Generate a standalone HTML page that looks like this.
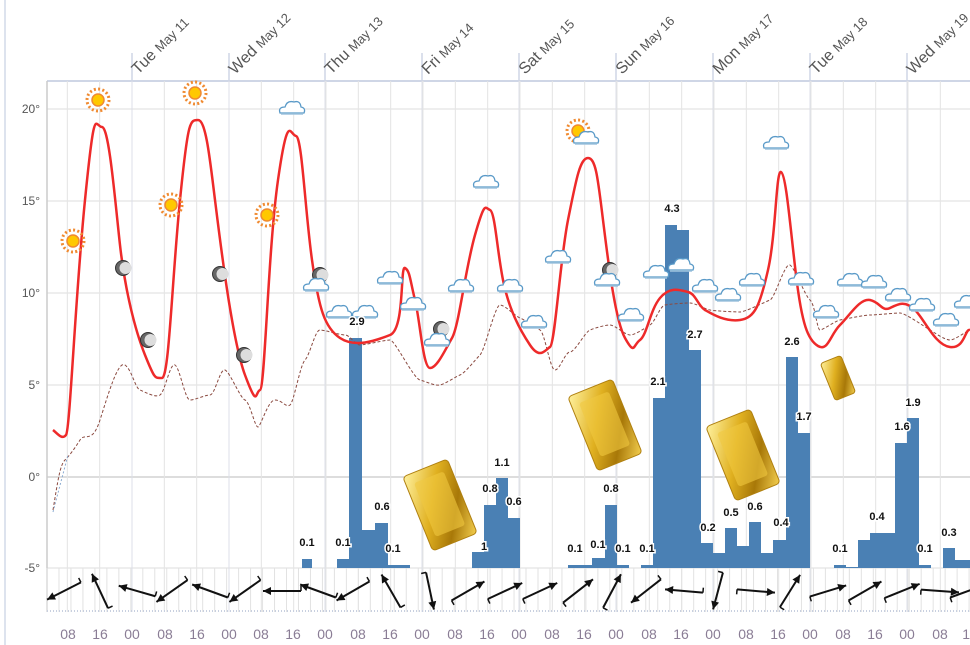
<!DOCTYPE html>
<html><head><meta charset="utf-8"><style>
html,body{margin:0;padding:0;background:#fff;width:970px;height:645px;overflow:hidden;font-family:"Liberation Sans",sans-serif}
svg text{font-family:"Liberation Sans",sans-serif}
</style></head><body>
<svg id="s" width="970" height="645" viewBox="0 0 970 645" xmlns="http://www.w3.org/2000/svg">
<defs>
<linearGradient id="gold" x1="0" y1="0" x2="1" y2="1"><stop offset="0" stop-color="#fff2a0"/><stop offset="0.4" stop-color="#e0b020"/><stop offset="0.7" stop-color="#a87808"/><stop offset="1" stop-color="#f5d050"/></linearGradient>
<g id="cloud"><path d="M-12,5 Q-14,-1 -7,-1 Q-5,-8 2,-6 Q8,-8 9,-1 Q14,0 12,5 Z" fill="#fff" stroke="#5a9ac8" stroke-width="1.3"/><line x1="-11" y1="6" x2="11" y2="6" stroke="#a0c4de" stroke-width="1.5"/></g>
<g id="sun"><circle r="11" fill="none" stroke="#f08a30" stroke-width="3" stroke-dasharray="2 2.3"/><circle r="6" fill="#ffc800" stroke="#f08a30" stroke-width="1.5"/></g>
<g id="moon"><circle r="7.5" fill="#666" stroke="#333" stroke-width="1"/><circle cx="2.5" r="6" fill="#ddd"/></g>
</defs>
<line x1="5" y1="0" x2="5" y2="645" stroke="#dde3ee" stroke-width="2"/>
<g id="grid"></g>
<g id="bars"></g>
<path fill="none" stroke="#8b4a40" stroke-width="1" stroke-dasharray="3 2" d="M53,510 C58,480 60,465 65,460 S75,448 80,440 S92,445 100,420 S118,360 125,365 S135,388 140,390 S155,398 160,395 S170,362 175,365 S185,400 190,400 S205,395 210,395 S220,368 225,370 S240,398 245,400 S255,428 258,427 S268,400 275,400 S286,408 290,405 S300,365 305,360 S315,330 320,330 S340,335 345,335 S355,345 360,345 S385,340 390,340 S413,378 420,380 S435,386 440,385 S455,377 460,375 S475,360 480,355 S495,305 500,305 S515,316 520,318 S535,327 540,330 S550,370 555,370 S565,352 570,352 S585,332 590,330 S605,325 610,325 S625,335 630,335 S645,328 650,325 S660,306 665,305 S685,303 690,303 S705,309 710,310 S735,312 740,312 S765,302 770,300 S785,262 790,265 S805,296 810,300 S817,330 820,330 S835,321 840,320 S865,315 870,315 S895,313 900,313 S925,327 930,330 S945,340 950,340 S965,332 970,330"/>
<path fill="none" stroke="#ee2a2a" stroke-width="2.5" d="M53,430 C58,434 62,440 66,435 S75,300 85,200 S95,127 102,127 S115,200 120,245 S135,330 145,355 S155,378 162,378 S172,280 180,200 S190,120 198,120 S210,160 215,200 S232,340 245,375 S255,392 260,390 S268,250 278,180 S290,135 296,136 S305,210 312,260 S325,328 340,338 S375,341 390,335 S400,265 405,268 S410,280 415,300 S423,368 430,368 S445,350 452,338 S465,270 475,235 S485,208 490,210 S497,250 503,280 S520,330 530,345 S545,350 550,347 S560,260 568,220 S580,158 588,158 S598,180 603,220 S615,320 625,338 S633,345 640,340 S650,310 660,298 S680,290 688,292 S698,306 705,310 S725,322 740,320 S760,305 768,270 S776,170 781,172 S790,225 796,275 S808,340 818,346 S830,335 840,325 S860,298 870,300 S882,312 890,308 S905,300 915,310 S935,345 950,347 S965,328 970,330"/>
<line x1="53" y1="512" x2="68" y2="455" stroke="#8aaad0" stroke-width="1" stroke-dasharray="2 2"/>
<g id="icons"></g>
<g id="goldbars">
<g transform="translate(440,505) rotate(-22)"><rect x="-24" y="-40" width="48" height="80" rx="4" fill="url(#gold)" stroke="#b08010"/><rect x="-16" y="-30" width="32" height="58" rx="3" fill="#f0c840" opacity="0.6"/></g>
<g transform="translate(605,425) rotate(-22)"><rect x="-24" y="-40" width="48" height="80" rx="4" fill="url(#gold)" stroke="#b08010"/><rect x="-16" y="-30" width="32" height="58" rx="3" fill="#f0c840" opacity="0.6"/></g>
<g transform="translate(743,455) rotate(-22)"><rect x="-24" y="-40" width="48" height="80" rx="4" fill="url(#gold)" stroke="#b08010"/><rect x="-16" y="-30" width="32" height="58" rx="3" fill="#f0c840" opacity="0.6"/></g>
<g transform="translate(838,378) rotate(-22)"><rect x="-11" y="-20" width="22" height="40" rx="3" fill="url(#gold)" stroke="#b08010"/></g>
</g>
<g id="wind"></g>
<g font-size="12" fill="#555">
<text x="40" y="113" text-anchor="end">20°</text>
<text x="40" y="205" text-anchor="end">15°</text>
<text x="40" y="297" text-anchor="end">10°</text>
<text x="40" y="389" text-anchor="end">5°</text>
<text x="40" y="481" text-anchor="end">0°</text>
<text x="40" y="572" text-anchor="end">-5°</text>
</g>
<g font-size="16" fill="#555">
<text transform="translate(138,75) rotate(-45)">Tue <tspan font-size="13">May 11</tspan></text>
<text transform="translate(235,75) rotate(-45)">Wed <tspan font-size="13">May 12</tspan></text>
<text transform="translate(331,75) rotate(-45)">Thu <tspan font-size="13">May 13</tspan></text>
<text transform="translate(428,75) rotate(-45)">Fri <tspan font-size="13">May 14</tspan></text>
<text transform="translate(525,75) rotate(-45)">Sat <tspan font-size="13">May 15</tspan></text>
<text transform="translate(622,75) rotate(-45)">Sun <tspan font-size="13">May 16</tspan></text>
<text transform="translate(719,75) rotate(-45)">Mon <tspan font-size="13">May 17</tspan></text>
<text transform="translate(816,75) rotate(-45)">Tue <tspan font-size="13">May 18</tspan></text>
<text transform="translate(913,75) rotate(-45)">Wed <tspan font-size="13">May 19</tspan></text>
</g>
<g font-size="14" fill="#8a7d95" text-anchor="middle">
<text x="68" y="639">08</text><text x="100" y="639">16</text><text x="132" y="639">00</text>
<text x="165" y="639">08</text><text x="197" y="639">16</text><text x="229" y="639">00</text>
<text x="261" y="639">08</text><text x="293" y="639">16</text><text x="325" y="639">00</text>
<text x="358" y="639">08</text><text x="390" y="639">16</text><text x="422" y="639">00</text>
<text x="455" y="639">08</text><text x="487" y="639">16</text><text x="519" y="639">00</text>
<text x="552" y="639">08</text><text x="584" y="639">16</text><text x="616" y="639">00</text>
<text x="649" y="639">08</text><text x="681" y="639">16</text><text x="713" y="639">00</text>
<text x="746" y="639">08</text><text x="778" y="639">16</text><text x="810" y="639">00</text>
<text x="843" y="639">08</text><text x="875" y="639">16</text><text x="907" y="639">00</text>
<text x="940" y="639">08</text><text x="970" y="639">16</text>
</g>
<g font-size="11" font-weight="bold" fill="#111" stroke="#fff" stroke-width="3" paint-order="stroke" text-anchor="middle">
<text x="307" y="546">0.1</text><text x="343" y="546">0.1</text><text x="357" y="325">2.9</text>
<text x="382" y="510">0.6</text><text x="393" y="552">0.1</text>
<text x="484" y="550">1</text><text x="490" y="492">0.8</text><text x="502" y="466">1.1</text><text x="514" y="505">0.6</text>
<text x="575" y="552">0.1</text><text x="598" y="548">0.1</text><text x="611" y="492">0.8</text><text x="623" y="552">0.1</text>
<text x="647" y="552">0.1</text><text x="658" y="385">2.1</text><text x="672" y="212">4.3</text><text x="695" y="338">2.7</text>
<text x="708" y="531">0.2</text><text x="731" y="516">0.5</text><text x="755" y="510">0.6</text><text x="781" y="526">0.4</text>
<text x="792" y="345">2.6</text><text x="804" y="420">1.7</text>
<text x="840" y="552">0.1</text><text x="877" y="520">0.4</text><text x="902" y="430">1.6</text><text x="913" y="406">1.9</text>
<text x="925" y="552">0.1</text><text x="949" y="536">0.3</text>
</g>
</svg>
<script>
var NS="http://www.w3.org/2000/svg";
function el(p,t,a){var e=document.createElementNS(NS,t);for(var k in a)e.setAttribute(k,a[k]);document.getElementById(p).appendChild(e);return e;}
var step=97/3;
[109,201,293,385,477,568].forEach(function(y){el("grid","line",{x1:47,y1:y,x2:970,y2:y,stroke:y==477?"#bbb":"#ddd","stroke-width":1});});
el("grid","line",{x1:47,y1:81,x2:970,y2:81,stroke:"#cfd6e6","stroke-width":2});
el("grid","line",{x1:47,y1:81,x2:47,y2:612,stroke:"#ccc","stroke-width":1.5});
for(var x=132-step*3;x<975;x+=step){ if(x<48)continue;
 el("grid","line",{x1:x,y1:81,x2:x,y2:612,stroke:"#e4e4e4","stroke-width":1});}
[132,229,325,422,519,616,713,810,907].forEach(function(x){el("grid","line",{x1:x,y1:53,x2:x,y2:81,stroke:"#cfd6e6","stroke-width":1.5});el("grid","line",{x1:x,y1:81,x2:x,y2:612,stroke:"#dcdfe8","stroke-width":1});});
for(var x=47;x<975;x+=step/2.7){el("grid","line",{x1:x,y1:568,x2:x,y2:612,stroke:"#e2e2e2","stroke-width":1});}
el("grid","line",{x1:47,y1:611,x2:970,y2:611,stroke:"#c8d0e0","stroke-width":2,"stroke-dasharray":"1 2"});
var B=[[302,312,559],[337,349,559],[349,362,338],[362,375,530],[375,388,523],[388,410,565],[472,484,552],[484,496,505],[496,508,478],[508,520,518],[568,580,565],[580,592,565],[592,605,558],[605,617,505],[617,629,565],[641,653,565],[653,665,398],[665,677,225],[677,689,230],[689,701,350],[701,713,543],[713,725,553],[725,737,528],[737,749,546],[749,761,522],[761,773,553],[773,786,540],[786,798,357],[798,810,433],[834,846,565],[846,858,567],[858,870,540],[870,895,533],[895,907,443],[907,919,418],[919,931,565],[943,955,548],[955,970,560]];
B.forEach(function(b){el("bars","rect",{x:b[0],y:b[2],width:b[1]-b[0],height:568-b[2],fill:"#4a80b4"});});
function use(id,x,y){el("icons","use",{href:"#"+id,transform:"translate("+x+","+y+")"});}
[[73,241],[98,100],[195,93],[171,205],[267,215],[578,131]].forEach(function(p){use("sun",p[0],p[1]);});
[[123,268],[148,340],[220,274],[244,355],[320,275],[441,329],[610,270]].forEach(function(p){use("moon",p[0],p[1]);});
[[292,108],[316,285],[339,312],[365,312],[390,278],[413,304],[437,340],[461,286],[486,182],[510,286],[534,322],[558,257],[586,138],[607,280],[631,315],[656,272],[681,265],[705,286],[728,295],[752,280],[776,143],[801,279],[826,312],[850,280],[874,282],[898,295],[922,305],[946,320],[967,302]].forEach(function(p){use("cloud",p[0],p[1]);});
var W=[[64,153],[100,-115],[137,196],[172,145],[210,200],[245,145],[282,180],[318,200],[353,150],[391,-120],[430,78],[468,-30],[505,-25],[540,-25],[578,-38],[612,-62],[646,142],[684,185],[718,105],[756,5],[790,-58],[828,-17],[865,-30],[902,-22],[940,4],[968,-20]];
W.forEach(function(w){var a=w[1]*Math.PI/180,c=Math.cos(a),s=Math.sin(a),L=19,cx=w[0],cy=591;
 var hx=cx+c*L,hy=cy+s*L,tx=cx-c*L,ty=cy-s*L;
 el("wind","line",{x1:tx,y1:ty,x2:hx,y2:hy,stroke:"#111","stroke-width":2});
 var px=-s,py=c;
 el("wind","polygon",{points:hx+","+hy+" "+(hx-c*8+px*4)+","+(hy-s*8+py*4)+" "+(hx-c*8-px*4)+","+(hy-s*8-py*4),fill:"#111"});
 el("wind","line",{x1:tx,y1:ty,x2:tx+px*5,y2:ty+py*5,stroke:"#111","stroke-width":1.5});
});
</script>
</body></html>
